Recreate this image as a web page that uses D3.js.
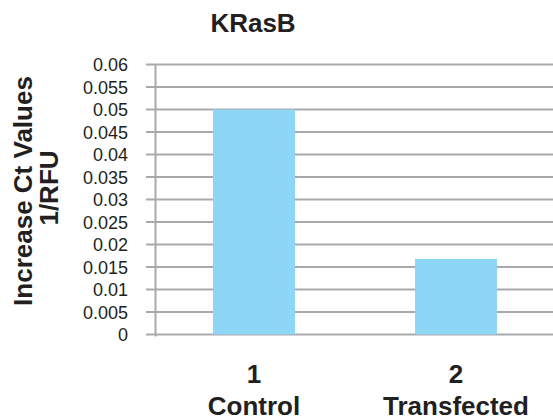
<!DOCTYPE html>
<html>
<head>
<meta charset="utf-8">
<script src="https://cdn.jsdelivr.net/npm/d3@7"></script>
<style>
	body { margin: 0; background: #fff; }
	svg { display: block; font-family: "Liberation Sans", Arial, sans-serif; }
</style>
</head>
<body>
<script>
var categories = ["1", "2"];
var groupNames = ["Control", "Transfected"];
var values = [0.05, 0.0168];
var yTicks = [0, 0.005, 0.01, 0.015, 0.02, 0.025, 0.03, 0.035, 0.04, 0.045, 0.05, 0.055, 0.06];
var yTickLabels = ["0", "0.005", "0.01", "0.015", "0.02", "0.025", "0.03", "0.035", "0.04", "0.045", "0.05", "0.055", "0.06"];

function init(){
	var w = 553;
	var h = 418;
	var grid = "#a7a9ac";
	var ink = "#231f20";

	var svg = d3.select("body")
		.append("svg")
		.attr("width", w)
		.attr("height", h);

	var xScale = d3.scaleBand()
		.domain(d3.range(categories.length))
		.range([153, 557])
		.paddingInner(0.594)
		.paddingOuter(0.297);

	var yScale = d3.scaleLinear()
		.domain([0, 0.06])
		.range([334.5, 64.5]);

	// gridlines + ticks
	svg.append("g")
		.selectAll("line")
		.data(yTicks)
		.enter()
		.append("line")
		.attr("x1", 146)
		.attr("x2", w)
		.attr("y1", function(d){ return yScale(d); })
		.attr("y2", function(d){ return yScale(d); })
		.attr("stroke", grid)
		.attr("stroke-width", 2);

	// vertical axis
	svg.append("line")
		.attr("x1", 155.5)
		.attr("x2", 155.5)
		.attr("y1", yScale(0.06))
		.attr("y2", yScale(0) + 2)
		.attr("stroke", grid)
		.attr("stroke-width", 2);

	svg.append("g")
		.selectAll("rect")
		.data(values)
		.enter()
		.append("rect")
		.attr("x", function(d, i){ return xScale(i); })
		.attr("y", function(d){ return yScale(d); })
		.attr("width", xScale.bandwidth())
		.attr("height", function(d){ return yScale(0) - yScale(d); })
		.attr("fill", "#8dd6f5");

	// tick labels
	svg.append("g")
		.selectAll("text")
		.data(yTicks)
		.enter()
		.append("text")
		.attr("x", 128)
		.attr("y", function(d){ return yScale(d) + 6.5; })
		.attr("text-anchor", "end")
		.style("font-size", "18px")
		.attr("fill", ink)
		.text(function(d, i){ return yTickLabels[i]; });

	// category labels
	var cats = svg.append("g")
		.selectAll("g")
		.data(categories)
		.enter()
		.append("g");

	cats.append("text")
		.attr("x", function(d, i){ return xScale(i) + xScale.bandwidth() / 2; })
		.attr("y", 383)
		.attr("text-anchor", "middle")
		.style("font-size", "26px")
		.style("font-weight", "bold")
		.attr("fill", ink)
		.text(function(d){ return d; });

	cats.append("text")
		.attr("x", function(d, i){ return xScale(i) + xScale.bandwidth() / 2; })
		.attr("y", 415)
		.attr("text-anchor", "middle")
		.style("font-size", "26px")
		.style("font-weight", "bold")
		.attr("fill", ink)
		.text(function(d, i){ return groupNames[i]; });

	svg.append("text")
		.attr("x", 253)
		.attr("y", 32)
		.attr("text-anchor", "middle")
		.style("font-size", "26px")
		.style("font-weight", "bold")
		.attr("fill", ink)
		.text("KRasB");

	svg.append("text")
		.attr("transform", "translate(32,191) rotate(-90)")
		.attr("text-anchor", "middle")
		.style("font-size", "26px")
		.style("font-weight", "bold")
		.attr("fill", ink)
		.text("Increase Ct Values");

	svg.append("text")
		.attr("transform", "translate(58,188) rotate(-90)")
		.attr("text-anchor", "middle")
		.style("font-size", "26px")
		.style("font-weight", "bold")
		.attr("fill", ink)
		.text("1/RFU");
}

window.onload = init;
</script>
</body>
</html>
